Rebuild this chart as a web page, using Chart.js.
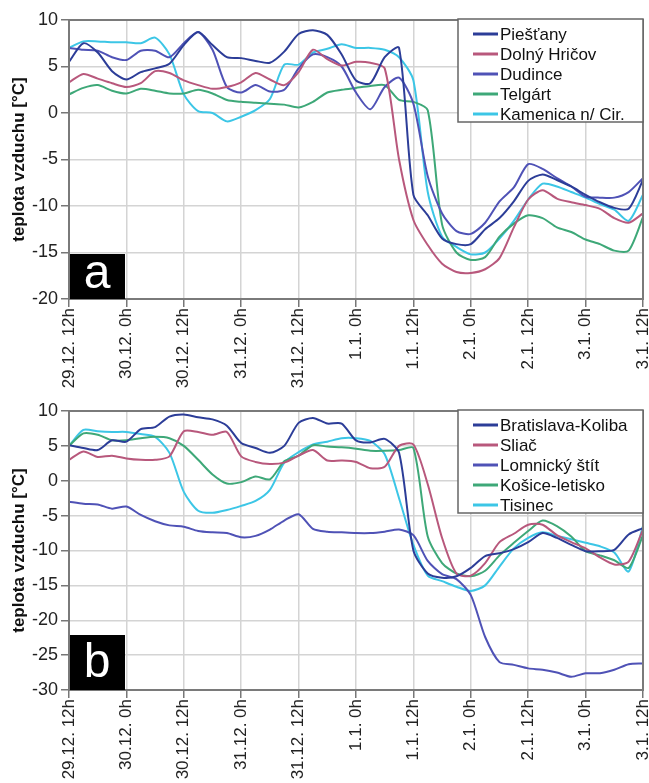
<!DOCTYPE html>
<html>
<head>
<meta charset="utf-8">
<script src="https://cdn.jsdelivr.net/npm/chart.js@4/dist/chart.umd.min.js"></script>
<style>
  body { margin: 0; background: #fff; }
  .panel { position: absolute; left: 0; width: 649px; height: 392px; }
</style>
</head>
<body>
<div class="panel" style="top:0"><canvas id="chartA" width="649" height="392"></canvas></div>
<div class="panel" style="top:391px"><canvas id="chartB" width="649" height="392"></canvas></div>
<script>
// hours since 29.12. 12h, one reading every 3 h
const hours = [0, 3, 6, 9, 12, 15, 18, 21, 24, 27, 30, 33, 36, 39, 42, 45, 48, 51, 54, 57, 60,
  63, 66, 69, 72, 75, 78, 81, 84, 87, 90, 93, 96, 99, 102, 105, 108, 111, 114, 117, 120];
const tickLabels = ["29.12. 12h", "30.12. 0h", "30.12. 12h", "31.12. 0h", "31.12. 12h",
  "1.1. 0h", "1.1. 12h", "2.1. 0h", "2.1. 12h", "3.1. 0h", "3.1. 12h"];

// panel a
const piestany = [5.5, 7.5, 6.5, 4.5, 3.6, 4.4, 4.8, 5.3, 7.3, 8.7, 7.3, 6.0, 5.9, 5.6, 5.4, 6.6, 8.5, 8.9, 8.4, 6.3, 3.5,
  3.2, 6.0, 7.0, -8.8, -11.0, -13.5, -14.1, -14.1, -12.5, -11.3, -9.5, -7.3, -6.6, -7.2, -7.9, -8.8, -9.6, -10.2, -10.3, -7.2];
const dolnyHricov = [3.3, 4.2, 3.7, 3.2, 2.8, 3.2, 4.5, 4.3, 3.5, 3.0, 2.6, 2.8, 3.3, 4.3, 3.6, 3.0, 4.4, 6.8, 5.8, 5.1, 5.5,
  5.4, 4.8, -5.0, -11.5, -14.2, -16.2, -17.1, -17.2, -16.8, -15.6, -12.3, -9.3, -8.3, -9.2, -9.6, -9.9, -10.3, -11.3, -11.8, -10.8];
const dudince = [7.0, 6.8, 6.7, 6.0, 5.7, 6.7, 6.7, 6.0, 7.5, 8.7, 6.8, 2.8, 2.2, 3.0, 2.3, 2.5, 4.8, 6.3, 6.0, 5.0, 2.2,
  0.4, 2.8, 3.8, 1.0, -6.8, -10.8, -12.7, -13.0, -11.8, -9.5, -8.0, -5.5, -6.0, -7.0, -7.9, -9.0, -9.1, -9.1, -8.5, -7.0];
const telgart = [2.0, 2.7, 3.0, 2.4, 2.1, 2.6, 2.4, 2.1, 2.1, 2.5, 2.1, 1.4, 1.2, 1.1, 1.0, 0.9, 0.6, 1.2, 2.2, 2.5, 2.7,
  2.9, 3.0, 1.4, 1.2, 0.3, -12.0, -15.0, -15.8, -15.5, -13.3, -11.9, -11.0, -11.3, -12.3, -12.8, -13.6, -14.1, -14.8, -14.8, -11.2];
const kamenica = [7.0, 7.7, 7.7, 7.6, 7.6, 7.5, 8.1, 6.3, 2.0, 0.2, 0.0, -0.9, -0.4, 0.3, 1.5, 5.2, 5.2, 6.5, 6.9, 7.4, 7.0,
  7.0, 6.8, 6.0, 3.5, -8.5, -13.3, -14.4, -15.2, -15.0, -13.5, -11.6, -9.3, -7.6, -7.9, -8.5, -9.1, -9.8, -10.4, -11.6, -8.8];

// panel b
const bratislava = [5.1, 4.7, 4.4, 5.8, 5.6, 7.4, 7.7, 9.2, 9.5, 9.1, 8.8, 7.9, 5.4, 4.7, 4.0, 5.0, 8.3, 9.0, 8.2, 8.2, 5.8,
  5.5, 6.0, 4.0, -10.0, -13.3, -13.9, -13.7, -12.5, -10.8, -10.4, -9.8, -8.8, -7.5, -8.2, -9.2, -10.1, -10.1, -9.9, -7.7, -6.8];
const sliac = [3.0, 4.2, 3.4, 3.6, 3.2, 3.0, 3.0, 3.5, 7.1, 7.0, 6.6, 7.0, 3.5, 2.7, 2.4, 2.6, 3.6, 4.4, 2.9, 2.9, 2.7,
  1.8, 2.0, 5.0, 5.2, -0.5, -8.2, -13.3, -13.6, -11.8, -8.8, -7.6, -6.3, -6.3, -7.8, -8.8, -9.7, -11.0, -12.0, -11.6, -7.0];
const lomnicky = [-3.0, -3.3, -3.4, -4.0, -3.7, -4.9, -5.8, -6.4, -6.6, -7.2, -7.4, -7.5, -8.1, -7.9, -7.0, -5.7, -4.8, -6.9, -7.3, -7.4, -7.5,
  -7.5, -7.3, -7.0, -7.8, -11.5, -13.4, -14.1, -16.4, -22.4, -26.0, -26.4, -26.9, -27.1, -27.5, -28.1, -27.6, -27.6, -27.1, -26.3, -26.2];
const kosice = [5.0, 6.8, 6.6, 5.8, 5.8, 6.1, 6.3, 6.1, 5.0, 3.0, 0.9, -0.4, -0.2, 0.6, 0.2, 2.8, 3.6, 5.1, 4.9, 4.8, 4.6,
  4.3, 4.3, 4.4, 4.7, -8.0, -11.8, -13.3, -13.7, -12.9, -10.7, -8.9, -7.2, -5.7, -6.5, -8.0, -10.1, -10.7, -11.4, -12.5, -7.8];
const tisinec = [5.0, 7.3, 7.1, 7.0, 7.0, 6.7, 6.3, 4.0, -1.6, -4.3, -4.6, -4.2, -3.6, -2.9, -1.3, 2.6, 4.1, 5.2, 5.6, 6.1, 6.1,
  5.7, 3.8, -2.5, -9.2, -13.6, -14.4, -15.2, -15.8, -15.0, -12.3, -9.7, -8.2, -7.4, -7.9, -8.4, -8.9, -9.4, -10.3, -13.0, -6.5];

const colors = ["#2c3d98", "#b8587c", "#4f52b6", "#3ea878", "#3cc6e6"];
const FONT = '"Liberation Sans", Arial, Helvetica, sans-serif';

// frame, black letter tag and the boxed legend inside the plot
const panelDecor = {
  id: "panelDecor",
  afterDatasetsDraw(chart, args, opts) {
    const { ctx, chartArea: a } = chart;
    ctx.save();
    ctx.strokeStyle = "#7a7a7a";
    ctx.lineWidth = 2;
    ctx.strokeRect(a.left, a.top, a.right - a.left, a.bottom - a.top);

    ctx.fillStyle = "#000";
    ctx.fillRect(a.left + 1, a.bottom - opts.tagH, 55, opts.tagH);
    ctx.fillStyle = "#fff";
    ctx.font = "48px " + FONT;
    ctx.textAlign = "center";
    ctx.textBaseline = "alphabetic";
    ctx.fillText(opts.letter, a.left + 28, a.bottom - opts.tagBase);

    const lx = 458, ly = a.top - 1, lw = a.right - lx, lh = 103;
    ctx.fillStyle = "#fff";
    ctx.fillRect(lx, ly, lw, lh);
    ctx.strokeStyle = "#666";
    ctx.lineWidth = 1.5;
    ctx.strokeRect(lx, ly, lw, lh);
    ctx.font = "17px " + FONT;
    ctx.textAlign = "left";
    ctx.textBaseline = "middle";
    chart.data.datasets.forEach((ds, i) => {
      const y = ly + 15 + i * 20;
      ctx.strokeStyle = ds.borderColor;
      ctx.lineWidth = 3;
      ctx.beginPath();
      ctx.moveTo(lx + 15, y);
      ctx.lineTo(lx + 40, y);
      ctx.stroke();
      ctx.fillStyle = "#111";
      ctx.fillText(ds.label, lx + 42, y + 1);
    });
    ctx.restore();
  }
};

function makeChart(id, names, series, yMin, letter, tagH, tagBase) {
  const ctx = document.getElementById(id).getContext("2d");
  new Chart(ctx, {
    type: "line",
    data: {
      datasets: series.map((s, i) => ({
        label: names[i],
        data: hours.map((h, j) => ({ x: h, y: s[j] })),
        borderColor: colors[i],
        borderWidth: 2,
        pointRadius: 0,
        tension: 0.25,
        fill: false,
      })),
    },
    options: {
      responsive: false,
      animation: false,
      layout: { padding: { top: 20, right: 6, left: 0, bottom: 0 } },
      plugins: {
        legend: { display: false },
        tooltip: { enabled: false },
        panelDecor: { letter, tagH, tagBase },
      },
      scales: {
        x: {
          type: "linear",
          min: 0,
          max: 120,
          grid: { color: "#d4d4d4", lineWidth: 1.5, tickColor: "#777", tickLength: 8 },
          border: { display: false },
          ticks: {
            stepSize: 12,
            autoSkip: false,
            minRotation: 90,
            maxRotation: 90,
            padding: 1,
            color: "#222",
            font: { family: FONT, size: 17 },
            callback: v => tickLabels[v / 12],
          },
          afterFit: s => { s.height = 93; s.paddingLeft = 0; s.paddingRight = 0; },
        },
        y: {
          min: yMin,
          max: 10,
          grid: { color: "#d4d4d4", lineWidth: 1.5, tickColor: "#777", tickLength: 8 },
          border: { display: false },
          ticks: { stepSize: 5, color: "#222", font: { family: FONT, size: 18 } },
          title: {
            display: true,
            text: "teplota vzduchu [°C]",
            color: "#111",
            font: { family: FONT, size: 17, weight: "bold" },
            padding: { top: 9, bottom: 0 },
          },
          afterFit: s => { s.width = 69; s.paddingTop = 0; s.paddingBottom = 0; },
        },
      },
    },
    plugins: [panelDecor],
  });
}

makeChart("chartA", ["Piešťany", "Dolný Hričov", "Dudince", "Telgárt", "Kamenica n/ Cir."],
  [piestany, dolnyHricov, dudince, telgart, kamenica], -20, "a", 45, 11);
makeChart("chartB", ["Bratislava-Koliba", "Sliač", "Lomnický štít", "Košice-letisko", "Tisinec"],
  [bratislava, sliac, lomnicky, kosice, tisinec], -30, "b", 55, 13);
</script>
</body>
</html>
